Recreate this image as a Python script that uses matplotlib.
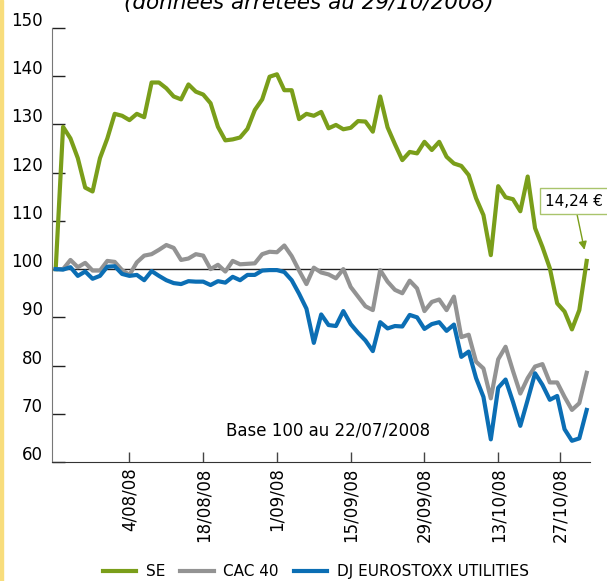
import matplotlib.pyplot as plt
import matplotlib.transforms as mtransforms
from matplotlib.patches import Rectangle

# indices 0..72 = jours de bourse du 22/07/2008 au 29/10/2008
se = [100, 129.5, 127.1, 123.0, 116.9, 116.1, 123.0, 127.1, 132.2, 131.8,
      130.9, 132.2, 131.5, 138.7, 138.7, 137.5, 135.8, 135.2, 138.3, 136.8,
      136.2, 134.4, 129.5, 126.7, 126.9, 127.3, 129.1, 133.0, 135.2, 139.9,
      140.4, 137.1, 137.1, 131.1, 132.2, 131.8, 132.6, 129.2, 129.9, 129.0,
      129.3, 130.7, 130.6, 128.5, 135.8, 129.4, 125.9, 122.6, 124.3, 124.0,
      126.4, 124.7, 126.4, 123.3, 121.9, 121.4, 119.5, 114.7, 111.2, 102.9,
      117.2, 114.9, 114.5, 112.0, 119.2, 108.5, 104.6, 100.2, 92.9, 91.2,
      87.5, 91.5, 101.7]
cac40 = [100, 100, 101.9, 100.4, 101.3, 99.7, 99.7, 101.7, 101.5, 99.8,
         98.8, 101.4, 102.8, 103.1, 104.0, 105.0, 104.4, 101.9, 102.2, 103.1,
         102.8, 100.0, 100.9, 99.5, 101.7, 101.0, 101.1, 101.2, 103.1, 103.6,
         103.5, 104.9, 102.7, 99.7, 96.9, 100.3, 99.3, 98.9, 98.1, 100.0,
         96.3, 94.3, 92.3, 91.5, 99.8, 97.4, 95.7, 95.0, 97.6, 96.0,
         91.3, 93.2, 93.7, 91.5, 94.3, 85.9, 86.4, 80.8, 79.4, 73.2,
         81.3, 83.9, 78.9, 74.2, 77.4, 79.8, 80.3, 76.5, 76.5, 73.5,
         70.8, 72.2, 78.5]
dj_utilities = [100, 99.9, 100.4, 98.6, 99.5, 98.0, 98.6, 100.5, 100.6, 99.0,
                98.6, 98.8, 97.7, 99.6, 98.6, 97.7, 97.1, 96.9, 97.5, 97.4,
                97.4, 96.7, 97.5, 97.2, 98.4, 97.7, 98.8, 98.8, 99.7, 99.8,
                99.8, 99.4, 97.7, 94.9, 91.8, 84.7, 90.6, 88.4, 88.2, 91.3,
                88.6, 86.8, 85.2, 83.0, 89.0, 87.7, 88.2, 88.1, 90.5, 90.0,
                87.6, 88.6, 89.0, 87.2, 88.5, 81.8, 82.9, 77.4, 73.5, 64.7,
                75.4, 77.1, 72.5, 67.5, 72.9, 78.4, 76.0, 72.9, 73.7, 66.8,
                64.4, 64.9, 70.8]

date_ticks = [10, 20, 30, 40, 50, 60, 68.4]
date_labels = ['4/08/08', '18/08/08', '1/09/08', '15/09/08',
               '29/09/08', '13/10/08', '27/10/08']
y_ticks = [60, 70, 80, 90, 100, 110, 120, 130, 140, 150]

green = '#7A9E1A'
grey = '#939393'
blue = '#0B6EB4'

plt.rcParams['font.family'] = 'DejaVu Sans'

fig = plt.figure(figsize=(6.07, 5.81), dpi=100)
ax = fig.add_axes([0.0857, 0.2048, 0.8863, 0.747])

x = list(range(len(se)))
ax.axhline(100, color='#222222', lw=1, zorder=1)
l1, = ax.plot(x, se, color=green, lw=3, label='SE', zorder=3)
l2, = ax.plot(x, cac40, color=grey, lw=3, label='CAC 40', zorder=3)
l3, = ax.plot(x, dj_utilities, color=blue, lw=3, label='DJ EUROSTOXX UTILITIES', zorder=3)

ax.set_xlim(-0.5, 72.45)
ax.set_ylim(60, 150)

ax.spines['top'].set_visible(False)
ax.spines['right'].set_visible(False)
ax.spines['left'].set_color('#777777')
ax.spines['bottom'].set_color('#333333')

ax.set_yticks(y_ticks)
ax.set_yticklabels([str(v) for v in y_ticks])
ax.tick_params(axis='y', direction='in', length=9.5, width=1, color='#222222',
               labelsize=12, pad=6.5)
offset = mtransforms.ScaledTranslation(0, 0.09, fig.dpi_scale_trans)
for lab in ax.yaxis.get_majorticklabels():
    lab.set_transform(lab.get_transform() + offset)

ax.set_xticks(date_ticks)
ax.set_xticklabels(date_labels, rotation=90)
ax.tick_params(axis='x', direction='in', length=7, width=1, color='#444444',
               labelsize=12, pad=4)

ax.text(0.514, 0.073, 'Base 100 au 22/07/2008', transform=ax.transAxes,
        ha='center', va='center', fontsize=12)

# étiquette du dernier cours
ax.annotate('14,24 €', xy=(71.7, 104), xytext=(0.946, 0.654),
            textcoords=fig.transFigure, ha='center', va='center', fontsize=11,
            bbox=dict(boxstyle='square,pad=0.35', fc='white', ec='#A9C46C', lw=1),
            arrowprops=dict(arrowstyle='-|>', color=green, lw=1, mutation_scale=12,
                            shrinkA=0, shrinkB=0),
            annotation_clip=False)

fig.text(0.509, 0.985, '(données arrêtées au 29/10/2008)', ha='center',
         va='baseline', fontsize=15.5, style='italic')

fig.legend(handles=[l1, l2, l3], loc='center', bbox_to_anchor=(0.52, 0.0155),
           ncol=3, frameon=False, fontsize=11, handlelength=2.2,
           handletextpad=0.6, columnspacing=1.0)

fig.patches.append(Rectangle((0, 0), 2.5 / 607, 1, transform=fig.transFigure,
                             color='#F8DD7C', zorder=0))

fig.savefig('out.png', dpi=100)
